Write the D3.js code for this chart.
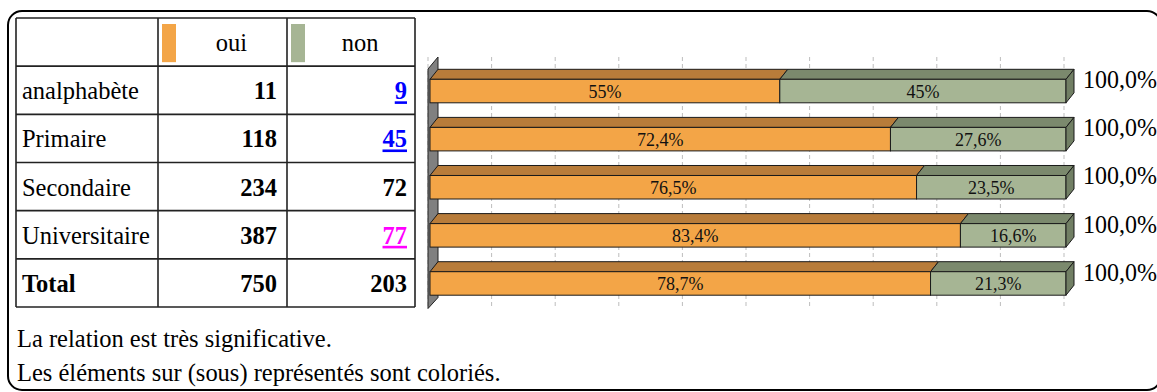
<!DOCTYPE html>
<html><head><meta charset="utf-8">
<script src="https://cdn.jsdelivr.net/npm/d3@7"></script>
<style>
body{margin:0;background:#fff;}
svg{display:block;font-family:"Liberation Serif","Times New Roman",serif;}
</style>
</head><body>
<svg id="c" width="1157" height="392"></svg>
<script>
// ---- data ----
const series = ["oui", "non"];
const categories = ["analphabète", "Primaire", "Secondaire", "Universitaire", "Total"];
const ouiCounts = [11, 118, 234, 387, 750];
const nonCounts = [9, 45, 72, 77, 203];
// representation flag of the "non" cells: "sous" / "sur" represented, null = normal
const nonRepresentation = ["sous", "sous", null, "sur", null];
const ouiPct = [55, 72.4, 76.5, 83.4, 78.7];
const nonPct = [45, 27.6, 23.5, 16.6, 21.3];
const totalPct = [100, 100, 100, 100, 100];
const gridTicks = [0, 10, 20, 30, 40, 50, 60, 70, 80, 90, 100];
const notes = ["La relation est très significative.", "Les éléments sur (sous) représentés sont coloriés."];

// ---- styles ----
const colors = {
  oui: {front: "#F3A547", top: "#B87C3A", side: "#A86F33"},
  non: {front: "#A6B594", top: "#7B896D", side: "#717F64"}
};
const reprColor = {sous: "#0000FF", sur: "#FF00FF"};
const STRETCH = 1.06;
const FS = 24.5;

const svg = d3.select("#c");

function txt(parent, x, y, str, size, stretch) {
  return parent.append("text")
    .attr("transform", `translate(${x},${y}) scale(1,${stretch || 1})`)
    .attr("font-size", size).text(str);
}

// outer frame
svg.append("rect")
  .attr("x", 8).attr("y", 11).attr("width", 1153).attr("height", 379)
  .attr("rx", 14).attr("ry", 14)
  .attr("fill", "none").attr("stroke", "#000").attr("stroke-width", 2);

// ---- table ----
const colX = [16, 158, 287, 415];
const rowScale = d3.scaleBand().domain(["__header"].concat(categories)).range([18, 307]);
const tbl = svg.append("g");
const lineColor = "#222";
rowScale.domain().concat(["__end"]).forEach(d => {
  const yy = d === "__end" ? rowScale.range()[1] : rowScale(d);
  tbl.append("line").attr("x1", colX[0]).attr("x2", colX[3])
    .attr("y1", yy).attr("y2", yy)
    .attr("stroke", lineColor).attr("stroke-width", 1.6);
});
colX.forEach(x => {
  tbl.append("line").attr("x1", x).attr("x2", x).attr("y1", rowScale.range()[0]).attr("y2", rowScale.range()[1])
    .attr("stroke", lineColor).attr("stroke-width", 1.6);
});
// header
const hy = rowScale("__header"), bh = rowScale.bandwidth();
series.forEach((s, i) => {
  const x0 = colX[i + 1];
  tbl.append("rect").attr("x", x0 + 4).attr("y", hy + 6).attr("width", 14).attr("height", bh - 10)
    .attr("fill", colors[s].front);
  txt(tbl, (x0 + 18 + colX[i + 2]) / 2, hy + bh / 2 + 9, s, FS, STRETCH).attr("text-anchor", "middle");
});
// rows
categories.forEach((c, i) => {
  const y = rowScale(c) + bh / 2 + 9;
  const isTotal = i === categories.length - 1;
  txt(tbl, 22, y, c, FS, STRETCH).attr("font-weight", isTotal ? "bold" : "normal");
  txt(tbl, colX[2] - 10, y, ouiCounts[i], FS, STRETCH)
    .attr("font-weight", "bold").attr("text-anchor", "end");
  const r = nonRepresentation[i];
  txt(tbl, colX[3] - 8, y, nonCounts[i], FS, STRETCH)
    .attr("font-weight", "bold").attr("text-anchor", "end")
    .attr("fill", r ? reprColor[r] : "#000")
    .style("text-decoration", r ? "underline" : "none");
});

// ---- 3D stacked bar chart ----
const x = d3.scaleLinear().domain([0, 100]).range([430, 1066]);
const y = d3.scaleBand().domain(categories).range([67, 307.5]).paddingInner(0.5114).paddingOuter(0.2557);
const dx = 8, dy = 10;
const chart = svg.append("g");
const [wy0, wy1] = y.range();

// grid lines
chart.selectAll("line.grid").data(gridTicks).join("line")
  .attr("x1", d => x(d) - 2).attr("x2", d => x(d) - 2)
  .attr("y1", wy0 - dy).attr("y2", wy1)
  .attr("stroke", "#bdbdbd").attr("stroke-width", 1).attr("stroke-dasharray", "4,3");

// left wall
chart.append("path")
  .attr("d", `M${x(0) - 2},${wy0 + 2} L${x(0) + dx},${wy0 - dy} L${x(0) + dx},${wy1 - dy} L${x(0) - 2},${wy1 + 1} Z`)
  .attr("fill", "#808080").attr("stroke", "#222").attr("stroke-width", 1);

const fmtPct = v => String(v).replace(".", ",") + "%";
const fmtTot = v => v.toFixed(1).replace(".", ",") + "%";

categories.forEach((c, i) => {
  const yt = y(c), h = y.bandwidth();
  const segs = [
    {s: "oui", a: 0, b: ouiPct[i], v: ouiPct[i]},
    {s: "non", a: ouiPct[i], b: ouiPct[i] + nonPct[i], v: nonPct[i]}
  ];
  const g = chart.append("g");
  segs.forEach((sg, k) => {
    const x0 = x(sg.a), x1 = x(sg.b);
    g.append("path")
      .attr("d", `M${x0},${yt} L${x0 + dx},${yt - dy} L${x1 + dx},${yt - dy} L${x1},${yt} Z`)
      .attr("fill", colors[sg.s].top).attr("stroke", "#1a1a1a").attr("stroke-width", 1).attr("stroke-linejoin", "round");
    g.append("rect").attr("x", x0).attr("y", yt).attr("width", x1 - x0).attr("height", h)
      .attr("fill", colors[sg.s].front).attr("stroke", "#1a1a1a").attr("stroke-width", 1);
    if (k === segs.length - 1) {
      g.append("path")
        .attr("d", `M${x1},${yt} L${x1 + dx},${yt - dy} L${x1 + dx},${yt + h - dy} L${x1},${yt + h} Z`)
        .attr("fill", colors[sg.s].side).attr("stroke", "#1a1a1a").attr("stroke-width", 1).attr("stroke-linejoin", "round");
    }
    g.append("text").attr("x", (x0 + x1) / 2).attr("y", yt + h / 2 + 7)
      .attr("text-anchor", "middle").attr("font-size", 18).attr("fill", "#111")
      .text(fmtPct(sg.v));
  });
  txt(g, x(100) + 17, yt + 9, fmtTot(totalPct[i]), 24, 1.03).attr("fill", "#000");
});

// ---- notes ----
notes.forEach((t, i) => {
  txt(svg, 17, 346.5 + i * 34, t, FS, STRETCH);
});
</script>
</body></html>
